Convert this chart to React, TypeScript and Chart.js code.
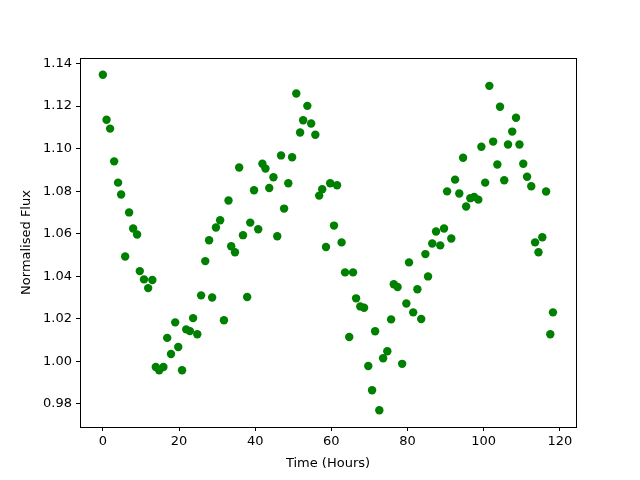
import React, { useEffect, useRef } from "react";
import { Chart, registerables } from "chart.js";

Chart.register(...registerables);

const timeHours = [
  0, 0.97, 1.9, 2.97, 4.0, 4.8, 5.86, 6.9, 7.96, 9.0,
  9.7, 10.8, 11.9, 13.0, 13.9, 14.8, 15.9, 16.9, 17.9, 19.0,
  19.8, 20.8, 21.9, 22.85, 23.7, 24.8, 25.8, 26.9, 27.9, 28.7,
  29.7, 30.8, 31.8, 33.0, 33.7, 34.7, 35.8, 36.8, 37.9, 38.7,
  39.7, 40.8, 41.9, 42.7, 43.7, 44.8, 45.8, 46.8, 47.6, 48.7,
  49.7, 50.8, 51.8, 52.6, 53.7, 54.7, 55.8, 56.8, 57.6, 58.6,
  59.7, 60.7, 61.5, 62.7, 63.6, 64.7, 65.7, 66.5, 67.6, 68.6,
  69.7, 70.7, 71.5, 72.6, 73.6, 74.7, 75.7, 76.4, 77.4, 78.6,
  79.7, 80.4, 81.5, 82.6, 83.6, 84.7, 85.4, 86.5, 87.5, 88.6,
  89.6, 90.4, 91.5, 92.5, 93.6, 94.6, 95.4, 96.5, 97.5, 98.6,
  99.4, 100.4, 101.5, 102.5, 103.6, 104.3, 105.4, 106.4, 107.5, 108.5,
  109.4, 110.4, 111.4, 112.5, 113.5, 114.4, 115.4, 116.4, 117.5, 118.2,
];

const normalisedFlux = [
  1.1347, 1.1136, 1.1094, 1.094, 1.084, 1.0784, 1.0493, 1.070, 1.0624, 1.0596,
  1.0424, 1.0385, 1.0344, 1.0382, 0.9973, 0.9958, 0.9973, 1.011, 1.0034, 1.0183,
  1.0067, 0.9958, 1.015, 1.0142, 1.0203, 1.0127, 1.031, 1.0471, 1.0569, 1.030,
  1.0629, 1.0663, 1.0193, 1.0756, 1.0541, 1.0513, 1.0911, 1.0593, 1.0302, 1.0652,
  1.0804, 1.0621, 1.0929, 1.0906, 1.0815, 1.0865, 1.0588, 1.0968, 1.0718, 1.0837,
  1.0959, 1.1259, 1.1076, 1.1133, 1.1201, 1.1118, 1.1065, 1.0779, 1.0809, 1.0537,
  1.0837, 1.0638, 1.0828, 1.0559, 1.0418, 1.0114, 1.0418, 1.0296, 1.0258, 1.0252,
  0.9978, 0.9864, 1.0141, 0.977, 1.0014, 1.0047, 1.0197, 1.0362, 1.0349, 0.9988,
  1.0272, 1.0465, 1.023, 1.0339, 1.0199, 1.0504, 1.0399, 1.0554, 1.061, 1.0545,
  1.0624, 1.0799, 1.0577, 1.0854, 1.0789, 1.0957, 1.0728, 1.0767, 1.0773, 1.076,
  1.1009, 1.084, 1.1295, 1.1033, 1.0925, 1.1197, 1.0851, 1.1019, 1.108, 1.1145,
  1.1019, 1.0929, 1.0868, 1.0823, 1.0559, 1.0513, 1.0583, 1.0798, 1.0127, 1.023,
];

const xTicks = [0, 20, 40, 60, 80, 100, 120];
const yTicks = [0.98, 1.0, 1.02, 1.04, 1.06, 1.08, 1.1, 1.12, 1.14];

const xTitle = "Time (Hours)";
const yTitle = "Normalised Flux";

const FONT = "'DejaVu Sans', sans-serif";

const frame = {
  id: "frame",
  afterDatasetsDraw(chart: any) {
    const { ctx, chartArea } = chart;
    ctx.save();
    ctx.strokeStyle = "#000";
    ctx.lineWidth = 1;
    ctx.strokeRect(
      Math.round(chartArea.left) + 0.5,
      Math.round(chartArea.top) + 0.5,
      Math.round(chartArea.right - chartArea.left),
      Math.round(chartArea.bottom - chartArea.top)
    );
    ctx.restore();
  },
};

export default function App() {
  const ref = useRef<HTMLCanvasElement | null>(null);

  useEffect(() => {
    if (!ref.current) return;
    const points = timeHours.map((t, i) => ({ x: t, y: normalisedFlux[i] }));
    const chart = new Chart(ref.current, {
      type: "scatter",
      data: {
        datasets: [
          {
            data: points,
            backgroundColor: "#008000",
            borderWidth: 0,
            pointRadius: 4.2,
            pointHoverRadius: 4.2,
          },
        ],
      },
      options: {
        responsive: false,
        animation: false,
        events: [],
        layout: { padding: { left: 0, right: 64, top: 58, bottom: 0 } },
        plugins: {
          legend: { display: false },
          tooltip: { enabled: false },
        },
        scales: {
          x: {
            type: "linear",
            min: -6.0,
            max: 124.25,
            afterBuildTicks: (scale: any) => {
              scale.ticks = xTicks.map((v) => ({ value: v }));
            },
            afterFit: (scale: any) => {
              scale.height = 53;
            },
            grid: {
              drawOnChartArea: false,
              drawTicks: true,
              tickLength: 4,
              color: "#000",
            },
            border: { display: true, color: "#000" },
            ticks: {
              color: "#000",
              font: { family: FONT, size: 13 },
              padding: 3,
              maxRotation: 0,
              callback: (v: any) => String(v),
            },
            title: {
              display: true,
              text: xTitle,
              color: "#000",
              font: { family: FONT, size: 13 },
              padding: { top: 2, bottom: 9 },
            },
          },
          y: {
            type: "linear",
            min: 0.9691,
            max: 1.1426,
            afterBuildTicks: (scale: any) => {
              scale.ticks = yTicks.map((v) => ({ value: v }));
            },
            afterFit: (scale: any) => {
              scale.width = 80;
            },
            grid: {
              drawOnChartArea: false,
              drawTicks: true,
              tickLength: 4,
              color: "#000",
            },
            border: { display: true, color: "#000" },
            ticks: {
              color: "#000",
              font: { family: FONT, size: 13 },
              padding: 4,
              callback: (v: any) => Number(v).toFixed(2),
            },
            title: {
              display: true,
              text: yTitle,
              color: "#000",
              font: { family: FONT, size: 13 },
              padding: { top: 19, bottom: 0 },
            },
          },
        },
      },
      plugins: [frame],
    });
    return () => chart.destroy();
  }, []);

  return (
    <div style={{ position: "absolute", left: 0, top: 0, width: 640, height: 480, background: "#fff" }}>
      <canvas ref={ref} width={640} height={480} />
    </div>
  );
}
